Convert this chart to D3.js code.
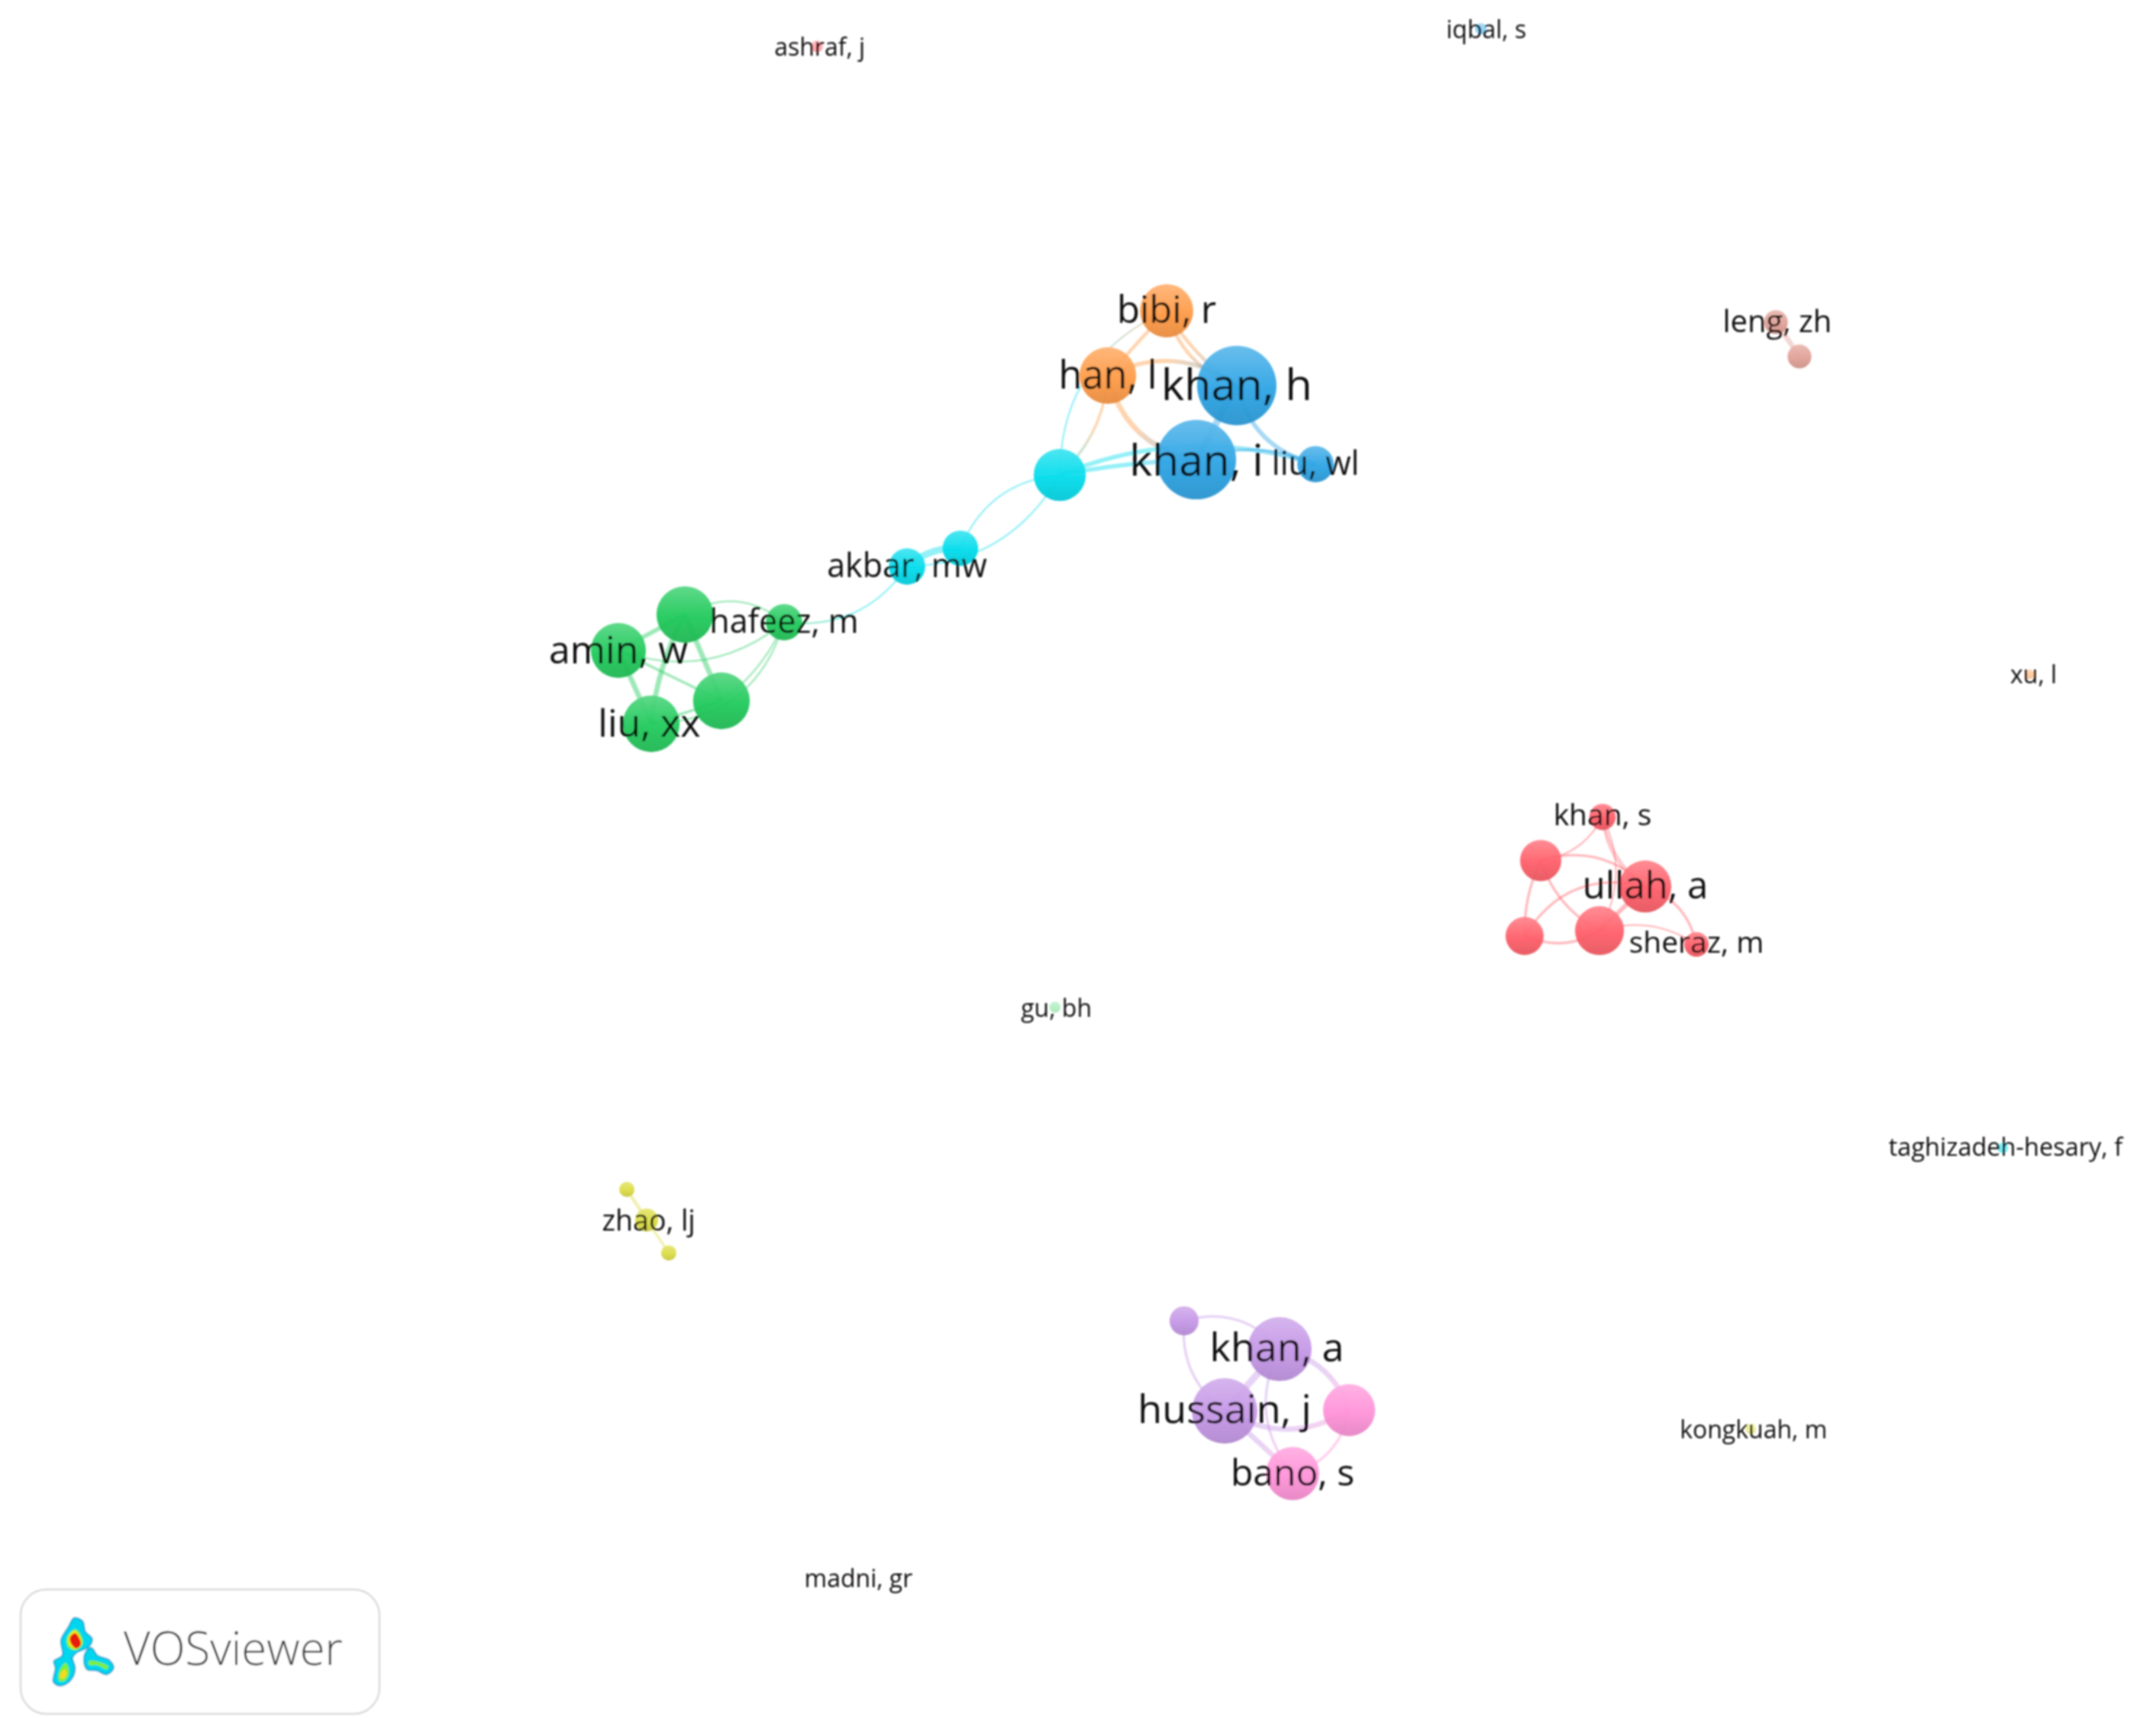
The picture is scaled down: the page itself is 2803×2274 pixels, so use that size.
<!DOCTYPE html>
<html>
<head>
<meta charset="utf-8">
<script src="https://cdn.jsdelivr.net/npm/d3@7"></script>
<style>
  html, body { margin: 0; padding: 0; background: #fff; }
  svg { display: block; }
  text { font-family: "Open Sans", sans-serif; }
</style>
</head>
<body>
<div class="canvas"></div>
<script>
const svgWidth = 2803, svgHeight = 2274

// authors (map position, weight, cluster, label size)
const names = ['bibi, r', 'han, l', 'khan, h', 'khan, i', 'liu, wl', '', 'akbar, mw', '', '', 'amin, w', '', 'liu, xx', 'hafeez, m',
  'khan, s', '', 'ullah, a', '', '', 'sheraz, m', '', 'khan, a', 'hussain, j', '', 'bano, s', '', 'zhao, lj', '', 'leng, zh', '',
  'ashraf, j', 'iqbal, s', 'gu, bh', 'xu, l', 'taghizadeh-hesary, f', 'kongkuah, m', 'madni, gr']
const mapX = [854.8, 811.7, 906.2, 876.6, 963.9, 776.5, 664.6, 703.7, 501.8, 453.1, 528.6, 477.2, 574.5,
  1174.2, 1128.9, 1205.5, 1117.1, 1172, 1243, 867.6, 937.6, 897.3, 988.5, 947.1, 459.3, 473.8, 490, 1301.2, 1318.5,
  598.6, 1085, 773, 1487, 1467.5, 1282.8, 629]
const mapY = [227.7, 275.2, 282.5, 336.8, 340.1, 348, 415.1, 401.7, 450.3, 476.6, 513.5, 530.3, 455.9,
  598.6, 630.5, 649.5, 685.8, 681.9, 692, 967.8, 988.5, 1033.8, 1033.2, 1079.7, 871.5, 893.9, 918, 236, 261.2,
  34, 21, 738, 494, 841, 1047, 1156]
const weights = [45, 51, 100, 100, 21, 43, 21, 20, 51, 48, 51, 51, 21,
  11, 27, 43, 23, 38, 9.5, 13.4, 65, 68, 43, 45, 3.7, 8.3, 3.7, 9, 9,
  2.2, 2, 2, 1.5, 1.8, 1.8, 0.1]
const clusters = ['orange', 'orange', 'blue', 'blue', 'blue', 'cyan', 'cyan', 'cyan', 'green', 'green', 'green', 'green', 'green',
  'red', 'red', 'red', 'red', 'red', 'red', 'purple', 'purple', 'purple', 'pink', 'pink', 'yellow', 'yellow', 'yellow', 'brown', 'brown',
  'red', 'blue', 'mint', 'orange', 'cyan', 'yellow', 'red']
const labelSizes = [49, 50.5, 57.5, 57, 43, 0, 43, 0, 0, 50, 0, 50, 43,
  39, 0, 49, 0, 0, 39, 0, 52, 52, 0, 48, 0, 37.5, 0, 40, 0,
  32, 32, 32, 32, 32.5, 32, 32]
// labels that sit a little off their node
const labelDx = [0, 0, 0, 0, 0, 0, 0, 0, 0, 0, 0, -1.5, 0,
  0, 0, 0, 0, 0, 0, 0, -2, 0, 0, 0, 0, 1.5, 0, 1, 0,
  2, 4, 1, 3, 2, 2, 0]
const labelDy = [0, 0, 0, 1, 0, 0, 0, 0, 0, 0, 0, 0, 0,
  -1, 0, 0, 0, 0, -1, 0, -1, -1, 0, 0, 0, 1, 0, 0, 0,
  1, 1, 1, 1, 0, 1, 1]

// co-authorship links: source, target, strength, bend
const linkSource = [0, 0, 0, 1, 1, 1, 2, 2, 3, 5, 5, 5, 5, 5, 6, 6,
  8, 8, 8, 8, 9, 9, 9, 10, 10, 11,
  13, 13, 13, 13, 14, 14, 14, 15, 15, 15, 16, 17,
  19, 19, 20, 20, 20, 21, 21, 22,
  24, 25, 27]
const linkTarget = [1, 2, 2, 2, 3, 5, 3, 4, 4, 0, 3, 4, 7, 6, 7, 12,
  9, 10, 11, 12, 10, 11, 12, 11, 12, 12,
  14, 15, 15, 17, 15, 16, 17, 17, 18, 16, 17, 18,
  20, 21, 21, 22, 23, 22, 23, 23,
  25, 26, 28]
const linkStrength = [4, 4, 4, 5, 6, 3, 8, 5, 3, 2, 5, 5, 2, 2, 8, 2,
  5, 6, 6, 2, 3, 6, 2, 3, 2, 2,
  2, 2, 2, 2, 3, 3, 3, 5, 3, 3, 3, 2,
  3, 3, 8, 6, 3, 6, 6, 3,
  4, 3, 6]
const linkBend = [0, 0.13, 0.06, -0.15, 0.16, -0.1, 0, 0.15, -0.1, -0.16, -0.02, -0.09, 0.15, -0.14, -0.1, -0.15,
  0, 0, 0.05, -0.17, 0, 0, 0.14, 0, 0.07, 0.18,
  -0.13, 0.13, 0.1, -0.13, -0.15, 0.06, 0.1, 0, -0.14, 0.18, 0.13, -0.12,
  -0.16, 0.14, 0, -0.14, 0.16, 0.15, 0, -0.15,
  0, 0, 0]

const clusterColors = {
  orange: '#ff9a45', blue: '#2ba3e4', cyan: '#02dcec', green: '#1ec95a', red: '#ff5d68',
  purple: '#c496e6', pink: '#ff92d8', yellow: '#dcdc45', brown: '#e0a096', mint: '#6fe28f'
}

const x = d3.scaleLinear().domain([0, 1568]).range([0, svgWidth])
const y = d3.scaleLinear().domain([0, 1272]).range([0, svgHeight])
const radius = d3.scaleSqrt().domain([0, 100]).range([0, 52])
const linkWidth = d3.scaleLinear().domain([0, 8]).range([0, 9])

const nodes = names.map((name, i) => ({
  name, x: x(mapX[i]), y: y(mapY[i]), r: radius(weights[i]), color: clusterColors[clusters[i]], size: labelSizes[i],
  lx: x(mapX[i] + labelDx[i]), ly: y(mapY[i] + labelDy[i])
}))

const svg = d3.select('.canvas')
  .append('svg')
  .attr('width', svgWidth)
  .attr('height', svgHeight)

const defs = svg.append('defs')

// the reference is a soft upscaled bitmap
defs.append('filter').attr('id', 'soft').attr('x', '-5%').attr('y', '-5%').attr('width', '110%').attr('height', '110%')
  .append('feGaussianBlur').attr('stdDeviation', 1.2)

// top-lit ball fill for each cluster
Object.entries(clusterColors).forEach(([key, color]) => {
  const grad = defs.append('linearGradient').attr('id', 'ball-' + key)
    .attr('x1', 0).attr('y1', 0).attr('x2', 0).attr('y2', 1)
  grad.append('stop').attr('offset', '0%').attr('stop-color', d3.interpolateRgb(color, '#fff')(0.25))
  grad.append('stop').attr('offset', '55%').attr('stop-color', color)
  grad.append('stop').attr('offset', '100%').attr('stop-color', d3.color(color).darker(0.3))
})

const graph = svg.append('g').attr('filter', 'url(#soft)')

// links, coloured from one end to the other
const links = linkSource.map((s, i) => ({ s: nodes[s], t: nodes[linkTarget[i]], w: linkStrength[i], bend: linkBend[i], i }))

links.forEach(d => {
  const grad = defs.append('linearGradient').attr('id', 'link-' + d.i)
    .attr('gradientUnits', 'userSpaceOnUse')
    .attr('x1', d.s.x).attr('y1', d.s.y).attr('x2', d.t.x).attr('y2', d.t.y)
  grad.append('stop').attr('offset', '45%').attr('stop-color', d.s.color)
  grad.append('stop').attr('offset', '100%').attr('stop-color', d.t.color)
})

const linkPath = d => {
  const mx = (d.s.x + d.t.x) / 2, my = (d.s.y + d.t.y) / 2
  const dx = d.t.x - d.s.x, dy = d.t.y - d.s.y
  const p = d3.path()
  p.moveTo(d.s.x, d.s.y)
  p.quadraticCurveTo(mx - dy * d.bend * 2, my + dx * d.bend * 2, d.t.x, d.t.y)
  return p.toString()
}

graph.append('g').selectAll('path')
  .data(links)
  .enter()
  .append('path')
  .attr('d', linkPath)
  .attr('fill', 'none')
  .attr('stroke', d => `url(#link-${d.i})`)
  .attr('stroke-width', d => linkWidth(d.w))
  .attr('stroke-opacity', 0.42)

// nodes, the tiny single authors come out washed in the reference
graph.append('g').selectAll('circle')
  .data(nodes)
  .enter()
  .append('circle')
  .attr('cx', d => d.x)
  .attr('cy', d => d.y)
  .attr('r', d => d.r)
  .attr('fill', (d, i) => `url(#ball-${clusters[i]})`)
  .attr('fill-opacity', d => d.r < 9 ? 0.5 : 0.94)

// labels
graph.append('g').selectAll('text')
  .data(nodes.filter(d => d.name))
  .enter()
  .append('text')
  .attr('x', d => d.lx)
  .attr('y', d => d.ly)
  .attr('dy', '0.33em')
  .attr('text-anchor', 'middle')
  .attr('font-size', d => d.size)
  .attr('fill', '#111')
  .text(d => d.name)

// VOSviewer badge
const badge = svg.append('g').attr('filter', 'url(#soft)')

badge.append('rect')
  .attr('x', 27).attr('y', 2082)
  .attr('width', 470).attr('height', 163)
  .attr('rx', 34)
  .attr('fill', '#fff')
  .attr('stroke', '#dadada')
  .attr('stroke-width', 2.5)

const blob = d3.line().curve(d3.curveCatmullRomClosed)
const logo = badge.append('g').attr('transform', 'translate(0, 2050) scale(0.3333)')

const logoShapes = [
  { fill: '#05d6ee', stroke: '#08a9d6', pts: [[292, 208], [325, 222], [335, 262], [362, 290], [348, 322], [300, 345], [285, 365], [295, 405], [280, 450], [240, 475], [210, 460], [218, 405], [212, 378], [245, 355], [240, 295], [268, 245]] },
  { fill: '#05d6ee', stroke: '#08a9d6', pts: [[360, 326], [382, 355], [430, 375], [446, 405], [420, 430], [380, 415], [342, 410], [330, 372], [340, 338]] },
  { fill: '#7cf03c', pts: [[295, 252], [318, 275], [325, 310], [300, 335], [270, 325], [262, 290]] },
  { fill: '#f8e81c', pts: [[293, 258], [312, 278], [320, 310], [298, 330], [275, 318], [268, 288]] },
  { fill: '#e81c0c', pts: [[295, 268], [310, 285], [318, 312], [300, 328], [280, 310], [275, 285]] },
  { fill: '#7cf03c', pts: [[258, 385], [272, 420], [255, 455], [232, 455], [234, 415]] },
  { fill: '#f8d81c', pts: [[256, 410], [262, 430], [248, 448], [236, 442], [242, 420]] },
  { fill: '#7cf03c', pts: [[350, 378], [385, 380], [425, 398], [420, 410], [385, 395], [350, 392]] }
]

logo.selectAll('path')
  .data(logoShapes)
  .enter()
  .append('path')
  .attr('d', d => blob(d.pts))
  .attr('fill', d => d.fill)
  .attr('stroke', d => d.stroke || 'none')
  .attr('stroke-width', 6)

badge.append('text')
  .attr('x', 162).attr('y', 2181)
  .attr('font-size', 60)
  .attr('font-weight', 300)
  .attr('fill', '#333')
  .text('VOSviewer')
</script>
</body>
</html>
